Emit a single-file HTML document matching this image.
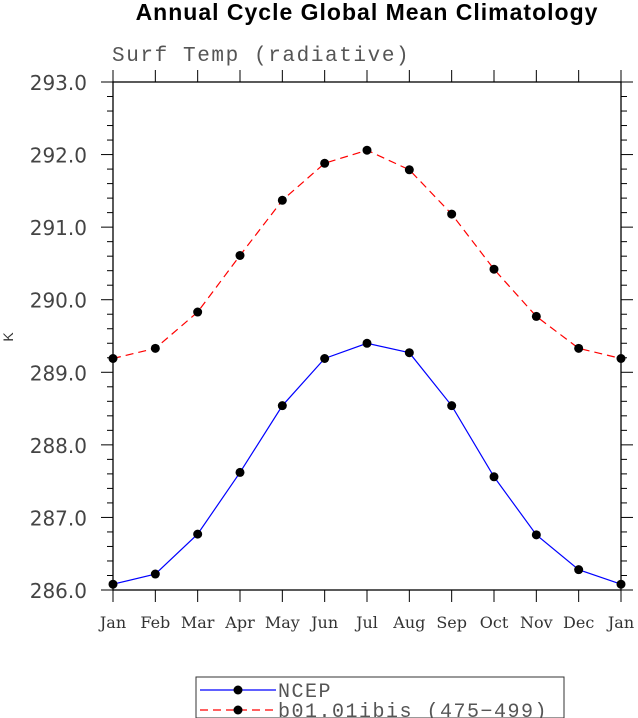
<!DOCTYPE html>
<html><head><meta charset="utf-8"><style>body{margin:0;background:#fff}svg{display:block}</style></head>
<body>
<svg id="chart" width="638" height="718" xmlns="http://www.w3.org/2000/svg" font-family="Liberation Sans, sans-serif">
<text x="367" y="20" text-anchor="middle" font-size="23" font-weight="bold" letter-spacing="1">Annual Cycle Global Mean Climatology</text>
<text x="112" y="61" font-size="21" fill="#555" letter-spacing="1.6" font-family="Liberation Mono, monospace">Surf Temp (radiative)</text>
<text transform="translate(13,337) rotate(-90)" text-anchor="middle" font-size="14" fill="#333">K</text>
<g id="axes"></g>
<g id="series"></g>
<g>
<rect x="196" y="677" width="368" height="41" fill="none" stroke="#333" stroke-width="1"/>
<line x1="200" y1="690" x2="276" y2="690" stroke="#0000ff" stroke-width="1.2"/>
<circle cx="238" cy="690" r="4.5" fill="#000"/>
<text x="278" y="697" font-size="20" letter-spacing="1.5" fill="#555" font-family="Liberation Mono, monospace">NCEP</text>
<line x1="200" y1="710" x2="276" y2="710" stroke="#ff0000" stroke-width="1.2" stroke-dasharray="8,5"/>
<circle cx="238" cy="710" r="4.5" fill="#000"/>
<text x="278" y="717" font-size="20" letter-spacing="1.5" fill="#555" font-family="Liberation Mono, monospace">b01.01ibis (475−499)</text>
</g>
</svg>
<script>
const months = ["Jan","Feb","Mar","Apr","May","Jun","Jul","Aug","Sep","Oct","Nov","Dec","Jan"];
const ncep = [286.08,286.22,286.77,287.62,288.54,289.19,289.40,289.27,288.54,287.56,286.76,286.28,286.08];
const model = [289.19,289.33,289.83,290.61,291.37,291.88,292.06,291.79,291.18,290.42,289.77,289.33,289.19];
const yTicks = ["286.0","287.0","288.0","289.0","290.0","291.0","292.0","293.0"];
const NS="http://www.w3.org/2000/svg";
const L=113,R=621,T=82,B=590,ymin=286,ymax=293;
const xs=i=>L+(R-L)*i/(months.length-1);
const ys=v=>B-(B-T)*(v-ymin)/(ymax-ymin);
function mk(t,a,p){const e=document.createElementNS(NS,t);for(const k in a)e.setAttribute(k,a[k]);p.appendChild(e);return e;}
const ax=document.getElementById('axes');
const frame=mk('rect',{x:L,y:T,width:R-L,height:B-T,fill:'none',stroke:'#000','stroke-width':1.3},ax);


months.forEach((m,i)=>{const x=xs(i);
mk('line',{x1:x,y1:B,x2:x,y2:B+12,stroke:'#000'},ax);
mk('line',{x1:x,y1:T,x2:x,y2:T-12,stroke:'#000'},ax);
const t=mk('text',{x:x,y:B+38,'text-anchor':'middle','font-size':16,fill:'#333','font-family':'DejaVu Serif, serif'},ax);
t.textContent=m;

});
yTicks.forEach(s=>{const v=parseFloat(s),y=ys(v);
mk('line',{x1:L-12,y1:y,x2:L,y2:y,stroke:'#000'},ax);
mk('line',{x1:R,y1:y,x2:R+12,y2:y,stroke:'#000'},ax);
const t=mk('text',{x:L-26,y:y+8,'text-anchor':'end','font-size':20,fill:'#444','font-family':'DejaVu Sans, sans-serif'},ax);
t.textContent=s;


if(v<ymax)for(let k=1;k<5;k++){const yy=ys(v+k*0.2);
mk('line',{x1:L-6,y1:yy,x2:L,y2:yy,stroke:'#000'},ax);
mk('line',{x1:R,y1:yy,x2:R+6,y2:yy,stroke:'#000'},ax);}});
const sg=document.getElementById('series');
function draw(data,color,dash,name){
const pts=data.map((v,i)=>xs(i)+','+ys(v)).join(' ');
const pl=mk('polyline',{points:pts,fill:'none',stroke:color,'stroke-width':1.2,'stroke-dasharray':dash},sg);


data.forEach((v,i)=>{const c=mk('circle',{cx:xs(i),cy:ys(v),r:4.5,fill:'#000'},sg);

});}
draw(ncep,'#0000ff','none','ncep');
draw(model,'#ff0000','8,5','model');
</script>
</body></html>
